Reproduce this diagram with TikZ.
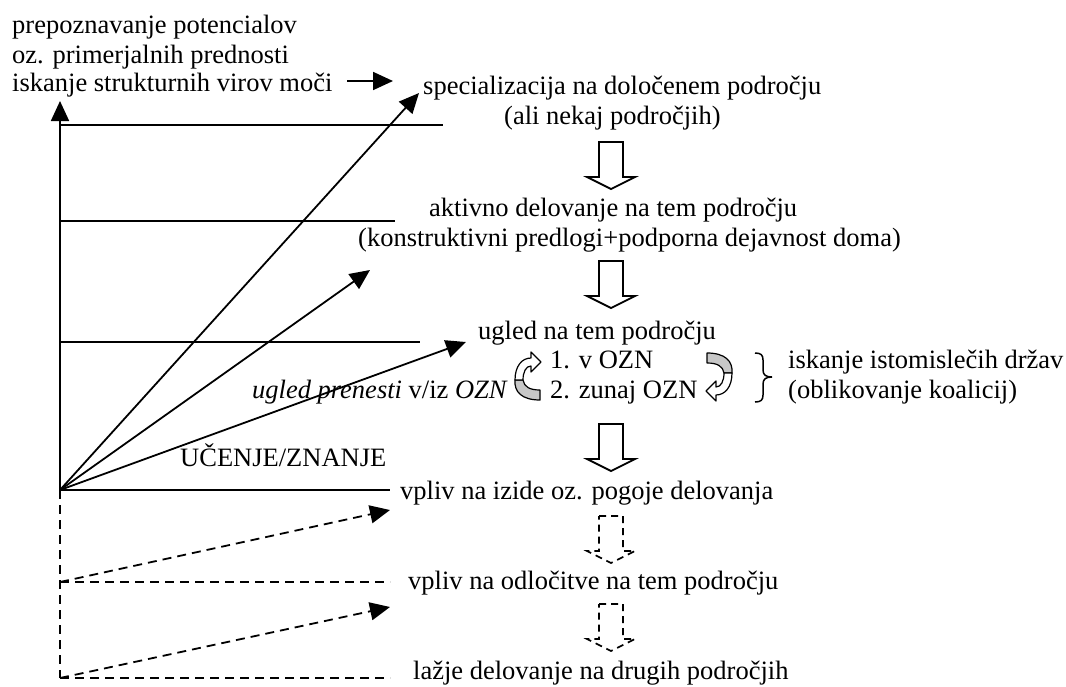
\documentclass[tikz,border=0pt]{standalone}
\usepackage{fontspec}
\setmainfont{Liberation Serif}
\usetikzlibrary{arrows.meta}
\begin{document}
\begin{tikzpicture}[x=1pt,y=-1pt,
  txt/.style={anchor=base west, inner sep=0pt, font=\fontsize{26.5}{29.5}\selectfont},
  ln/.style={line width=1.8pt},
  dsh/.style={line width=1.8pt, dash pattern=on 9pt off 6pt},
  tipa/.style={-{Triangle[length=20pt,width=18pt]}},
  blkbox/.style={draw, fill=white, line width=1.8pt, line join=miter},
  blkdash/.style={draw, line width=1.6pt, dash pattern=on 7pt off 5pt},
  blk/.pic={\path[pic actions] (-12,0) -- (12,0) -- (12,35) -- (24,35) -- (0,47) -- (-24,35) -- (-12,35) -- cycle;},
  ribgray/.style={draw, fill=black!22, line width=1.2pt, line join=round},
  ribwhite/.style={draw, fill=white, line width=1.2pt, line join=round},
  curv/.pic={
    \path[ribgray] (12,24) .. controls (-6,24) and (-14,16) .. (-13,4) -- (-5,4) .. controls (-4,11) and (2,14) .. (12,14) -- cycle;
    \path[ribwhite] (-13,4) .. controls (-13,-10) and (-6,-18) .. (3,-18) -- (3,-24) -- (13,-14) -- (3,-4) -- (3,-10) .. controls (-2,-10) and (-5,-4) .. (-5,4) -- cycle;
  }
]
\useasboundingbox (0,0) rectangle (1066,686);

% texts
\node[txt] (L1) at (12,33) {prepoznavanje potencialov};
\node[txt] (L2) at (12,63) {oz. primerjalnih prednosti};
\node[txt] (L3) at (12,91) {iskanje strukturnih virov moči};
\node[txt] (spec) at (423,94) {specializacija na določenem področju};
\node[txt] (ali) at (504,124) {(ali nekaj področjih)};
\node[txt] (akt) at (429,216) {aktivno delovanje na tem področju};
\node[txt] (kon) at (358,246) {(konstruktivni predlogi+podporna dejavnost doma)};
\node[txt] (ugl) at (478,339) {ugled na tem področju};
\node[txt] (one) at (550,368) {1. v OZN};
\node[txt] (two) at (550,398) {2. zunaj OZN};
\node[txt, anchor=base east] (pren) at (508,398) {\textit{ugled prenesti} v/iz \textit{OZN}};
\node[txt] (isk) at (788,368) {iskanje istomislečih držav};
\node[txt] (obl) at (788,398) {(oblikovanje koalicij)};
\node[txt] (uc) at (180,466) {UČENJE/ZNANJE};
\node[txt] (v1) at (400,499) {vpliv na izide oz. pogoje delovanja};
\node[txt] (v2) at (408,589) {vpliv na odločitve na tem področju};
\node[txt] (v3) at (413,679) {lažje delovanje na drugih področjih};

% coordinates
\coordinate (O) at (60,490);
\coordinate (axtop) at (60,101);
\coordinate (h1a) at (347,81);
\coordinate (h1b) at (393,81);
\coordinate (t1) at (419,93);
\coordinate (t2) at (370,270);
\coordinate (t3) at (466,342);
\coordinate (e1) at (443,125);
\coordinate (e2) at (395,221);
\coordinate (e3) at (420,342);
\coordinate (e4) at (390,490);
\coordinate (D1) at (60,582);
\coordinate (D2) at (60,678);
\coordinate (d1) at (390,582);
\coordinate (d2) at (390,678);
\coordinate (dt1) at (390,510);
\coordinate (dt2) at (390,607);

% axis and lines
\draw[ln,tipa] (O) -- (axtop);
\draw[ln,tipa] (h1a) -- (h1b);
\draw[ln] (O |- e1) -- (e1);
\draw[ln] (O |- e2) -- (e2);
\draw[ln] (O |- e3) -- (e3);
\draw[ln] (O) -- (e4);
\draw[ln,tipa] (O) -- (t1);
\draw[ln,tipa] (O) -- (t2);
\draw[ln,tipa] (O) -- (t3);

% dashed part
\draw[dsh] (O) -- (D2);
\draw[dsh] (D1) -- (d1);
\draw[dsh] (D2) -- (d2);
\draw[dsh,tipa] (D1) -- (dt1);
\draw[dsh,tipa] (D2) -- (dt2);

% block arrows
\pic[blkbox] at (611,142) {blk};
\pic[blkbox] at (611,261) {blk};
\pic[blkbox] at (611,424) {blk};
\pic[blkdash] at (611,516) {blk};
\pic[blkdash] at (611,604) {blk};

% curved arrows
\pic at (528,376) {curv};
\pic[rotate=180] at (719,377) {curv};

% brace
\draw[line width=1.5pt] (755,353) .. controls (761,353) and (763,355) .. (763,360) -- (763,370) .. controls (763,375) and (766,377) .. (772,377)
  .. controls (766,377) and (763,379) .. (763,384) -- (763,395) .. controls (763,400) and (761,402) .. (755,402);
\end{tikzpicture}
\end{document}
